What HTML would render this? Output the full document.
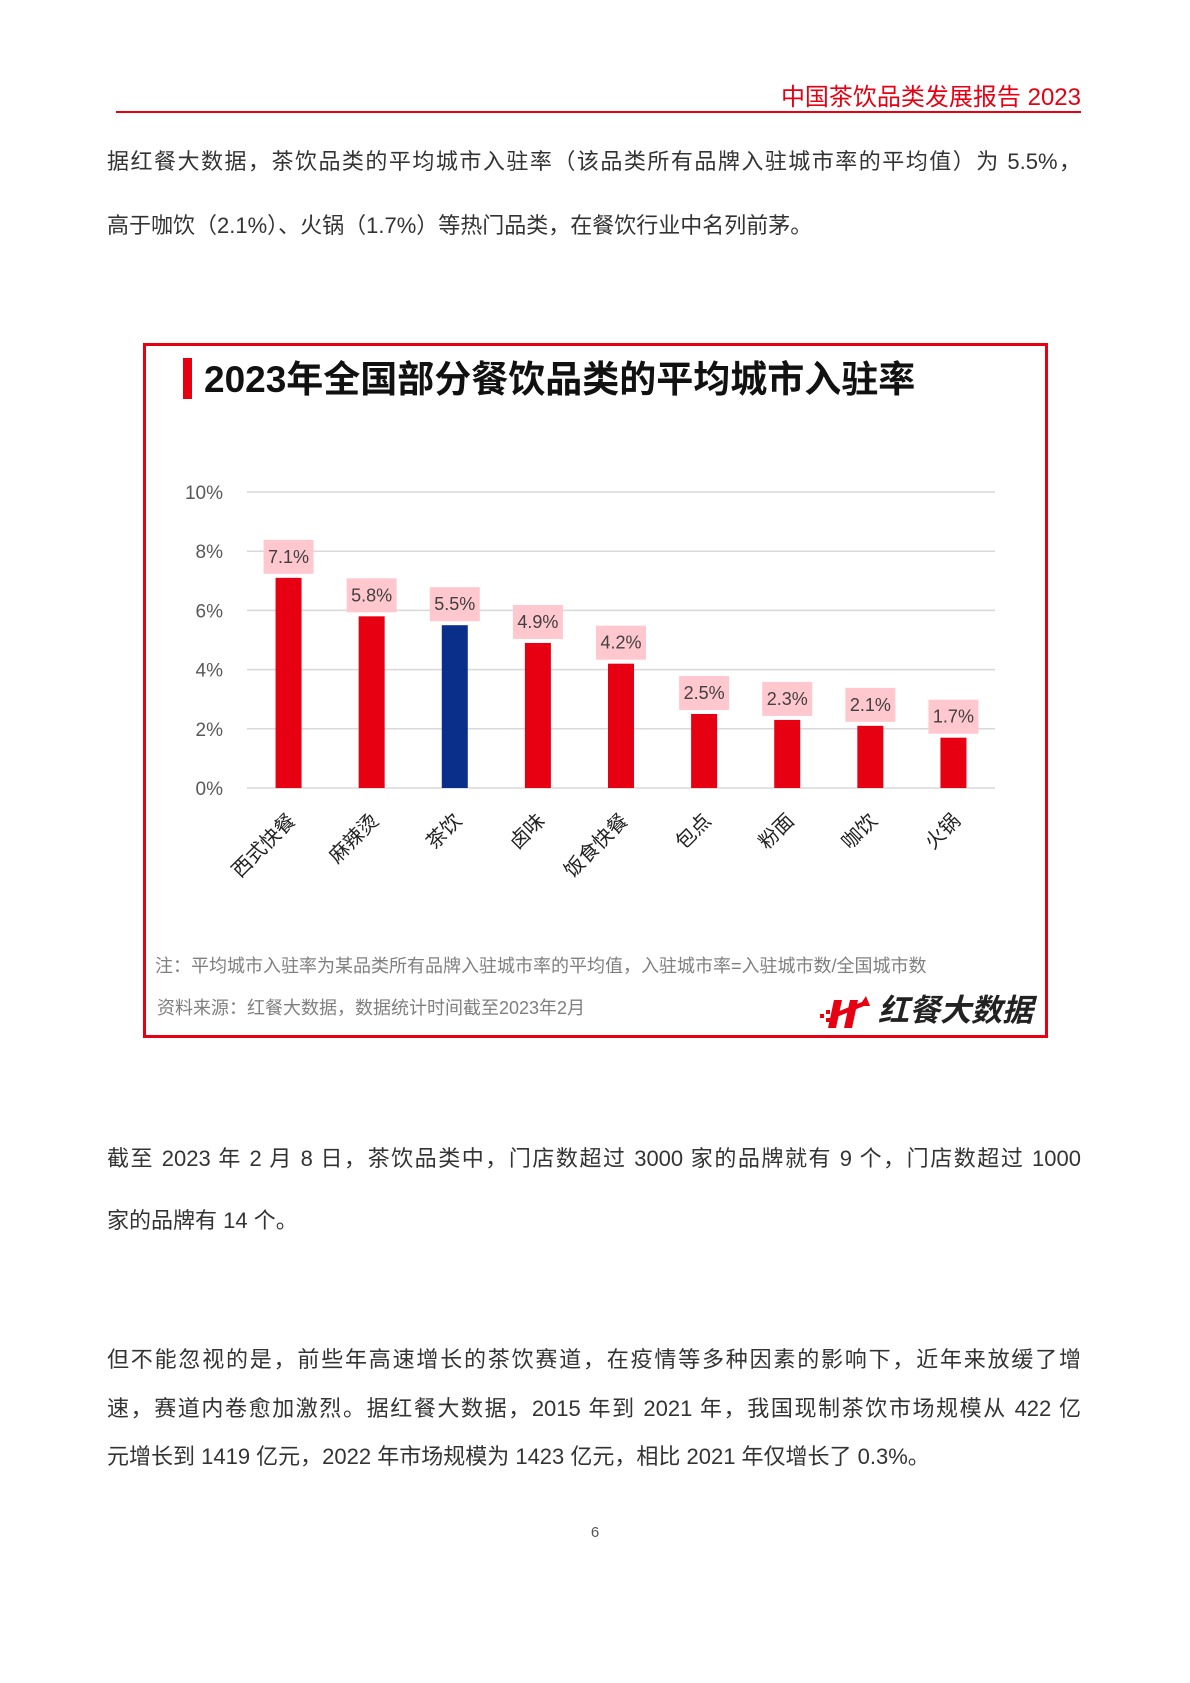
<!DOCTYPE html>
<html><head><meta charset="utf-8">
<style>
body{margin:0;background:#fff;}
#page{position:relative;width:1190px;height:1683px;overflow:hidden;background:#fff;font-family:"Liberation Sans","Noto Sans CJK SC",sans-serif;color:#333;}
.ln{position:absolute;left:107px;width:974px;font-size:22px;line-height:30px;white-space:nowrap;}
.j{text-align:justify;text-align-last:justify;}
</style></head><body>
<div id="page">
<div style="position:absolute;right:109px;top:83px;font-size:24px;color:#e60012;line-height:30px;">中国茶饮品类发展报告 2023</div>
<div style="position:absolute;left:116px;top:111px;width:965px;height:2px;background:#e60012;"></div>

<div class="ln j" style="top:147px;">据红餐大数据，茶饮品类的平均城市入驻率（该品类所有品牌入驻城市率的平均值）为 5.5%，</div>
<div class="ln" style="top:211px;">高于咖饮（2.1%）、火锅（1.7%）等热门品类，在餐饮行业中名列前茅。</div>

<div style="position:absolute;left:143px;top:343px;width:899px;height:689px;border:3px solid #e60012;"></div>
<div style="position:absolute;left:183px;top:358px;width:9px;height:41px;background:#e60012;"></div>
<div style="position:absolute;left:204px;top:357px;font-size:37px;font-weight:bold;color:#111;line-height:46px;white-space:nowrap;">2023年全国部分餐饮品类的平均城市入驻率</div>

<svg id="chart" width="1190" height="1683" style="position:absolute;left:0;top:0;pointer-events:none;"></svg>

<div style="position:absolute;left:155px;top:952px;font-size:18px;color:#7f7f7f;white-space:nowrap;">注：平均城市入驻率为某品类所有品牌入驻城市率的平均值，入驻城市率=入驻城市数/全国城市数</div>
<div style="position:absolute;left:157px;top:994px;font-size:18px;color:#7f7f7f;white-space:nowrap;">资料来源：红餐大数据，数据统计时间截至2023年2月</div>
<svg width="54" height="40" style="position:absolute;left:818px;top:992px;">
<rect x="2" y="22" width="4" height="4" fill="#e60012"/><rect x="8" y="18" width="4" height="4" fill="#e60012"/><rect x="8" y="26" width="4" height="4" fill="#e60012"/>
<path d="M16 8 L24 8 L18 36 L10 36 Z M32 8 L40 8 L34 36 L26 36 Z M14 22 L44 10 L48 4 L52 14 L46 14 L16 26 Z" fill="#e60012"/>
</svg>
<div style="position:absolute;left:878px;top:992px;font-size:31px;font-weight:bold;font-style:italic;color:#222;line-height:38px;white-space:nowrap;">红餐大数据</div>

<div class="ln j" style="top:1144px;">截至 2023 年 2 月 8 日，茶饮品类中，门店数超过 3000 家的品牌就有 9 个，门店数超过 1000</div>
<div class="ln" style="top:1206px;">家的品牌有 14 个。</div>

<div class="ln j" style="top:1345px;">但不能忽视的是，前些年高速增长的茶饮赛道，在疫情等多种因素的影响下，近年来放缓了增</div>
<div class="ln j" style="top:1394px;">速，赛道内卷愈加激烈。据红餐大数据，2015 年到 2021 年，我国现制茶饮市场规模从 422 亿</div>
<div class="ln" style="top:1442px;">元增长到 1419 亿元，2022 年市场规模为 1423 亿元，相比 2021 年仅增长了 0.3%。</div>

<div style="position:absolute;left:0;width:1190px;top:1524px;text-align:center;font-size:15px;color:#555;">6</div>
</div>
<script>
const categories=["西式快餐","麻辣烫","茶饮","卤味","饭食快餐","包点","粉面","咖饮","火锅"];
const values=[7.1,5.8,5.5,4.9,4.2,2.5,2.3,2.1,1.7];
const highlight=["茶饮"];
const yTicks=[0,2,4,6,8,10];
const svg=document.getElementById('chart');
const NS='http://www.w3.org/2000/svg';
const x0=247,x1=995,yTop=492,yBot=788,yMax=10;
const band=(x1-x0)/categories.length;
const xC=i=>x0+band*(i+0.5);
const y=v=>yBot-(v/yMax)*(yBot-yTop);
function mk(t,a){const e=document.createElementNS(NS,t);for(const k in a)e.setAttribute(k,a[k]);svg.appendChild(e);return e;}
yTicks.forEach(t=>{
 const l=mk('line',{x1:x0,x2:x1,y1:y(t),y2:y(t),stroke:'#d9d9d9','stroke-width':1.5});
 
 
 const tx=mk('text',{x:223,y:y(t)+7,'text-anchor':'end','font-size':19,fill:'#595959','font-family':'Liberation Sans, sans-serif'});
 tx.textContent=t+'%';
 
 
});
categories.forEach((c,i)=>{
 const v=values[i],cx=xC(i),bw=26;
 const b=mk('rect',{x:cx-bw/2,y:y(v),width:bw,height:yBot-y(v),fill:highlight.includes(c)?'#0a2f8a':'#e60012'});
 
 
 const bg=mk('rect',{x:cx-25,y:y(v)-38,width:50,height:34,fill:'#ffc7ce'});
 
 
 const t=mk('text',{x:cx,y:y(v)-15,'text-anchor':'middle','font-size':18,fill:'#404040','font-family':'Liberation Sans, sans-serif'});
 t.textContent=v.toFixed(1)+'%';
 
 
 const lx=cx+8,ly=822;
 const ct=mk('text',{x:lx,y:ly,'text-anchor':'end','font-size':20,fill:'#222','font-family':'Noto Sans CJK SC, sans-serif',transform:`rotate(-45 ${lx} ${ly})`});
 ct.textContent=c;
 
 
});
</script>
</body></html>
